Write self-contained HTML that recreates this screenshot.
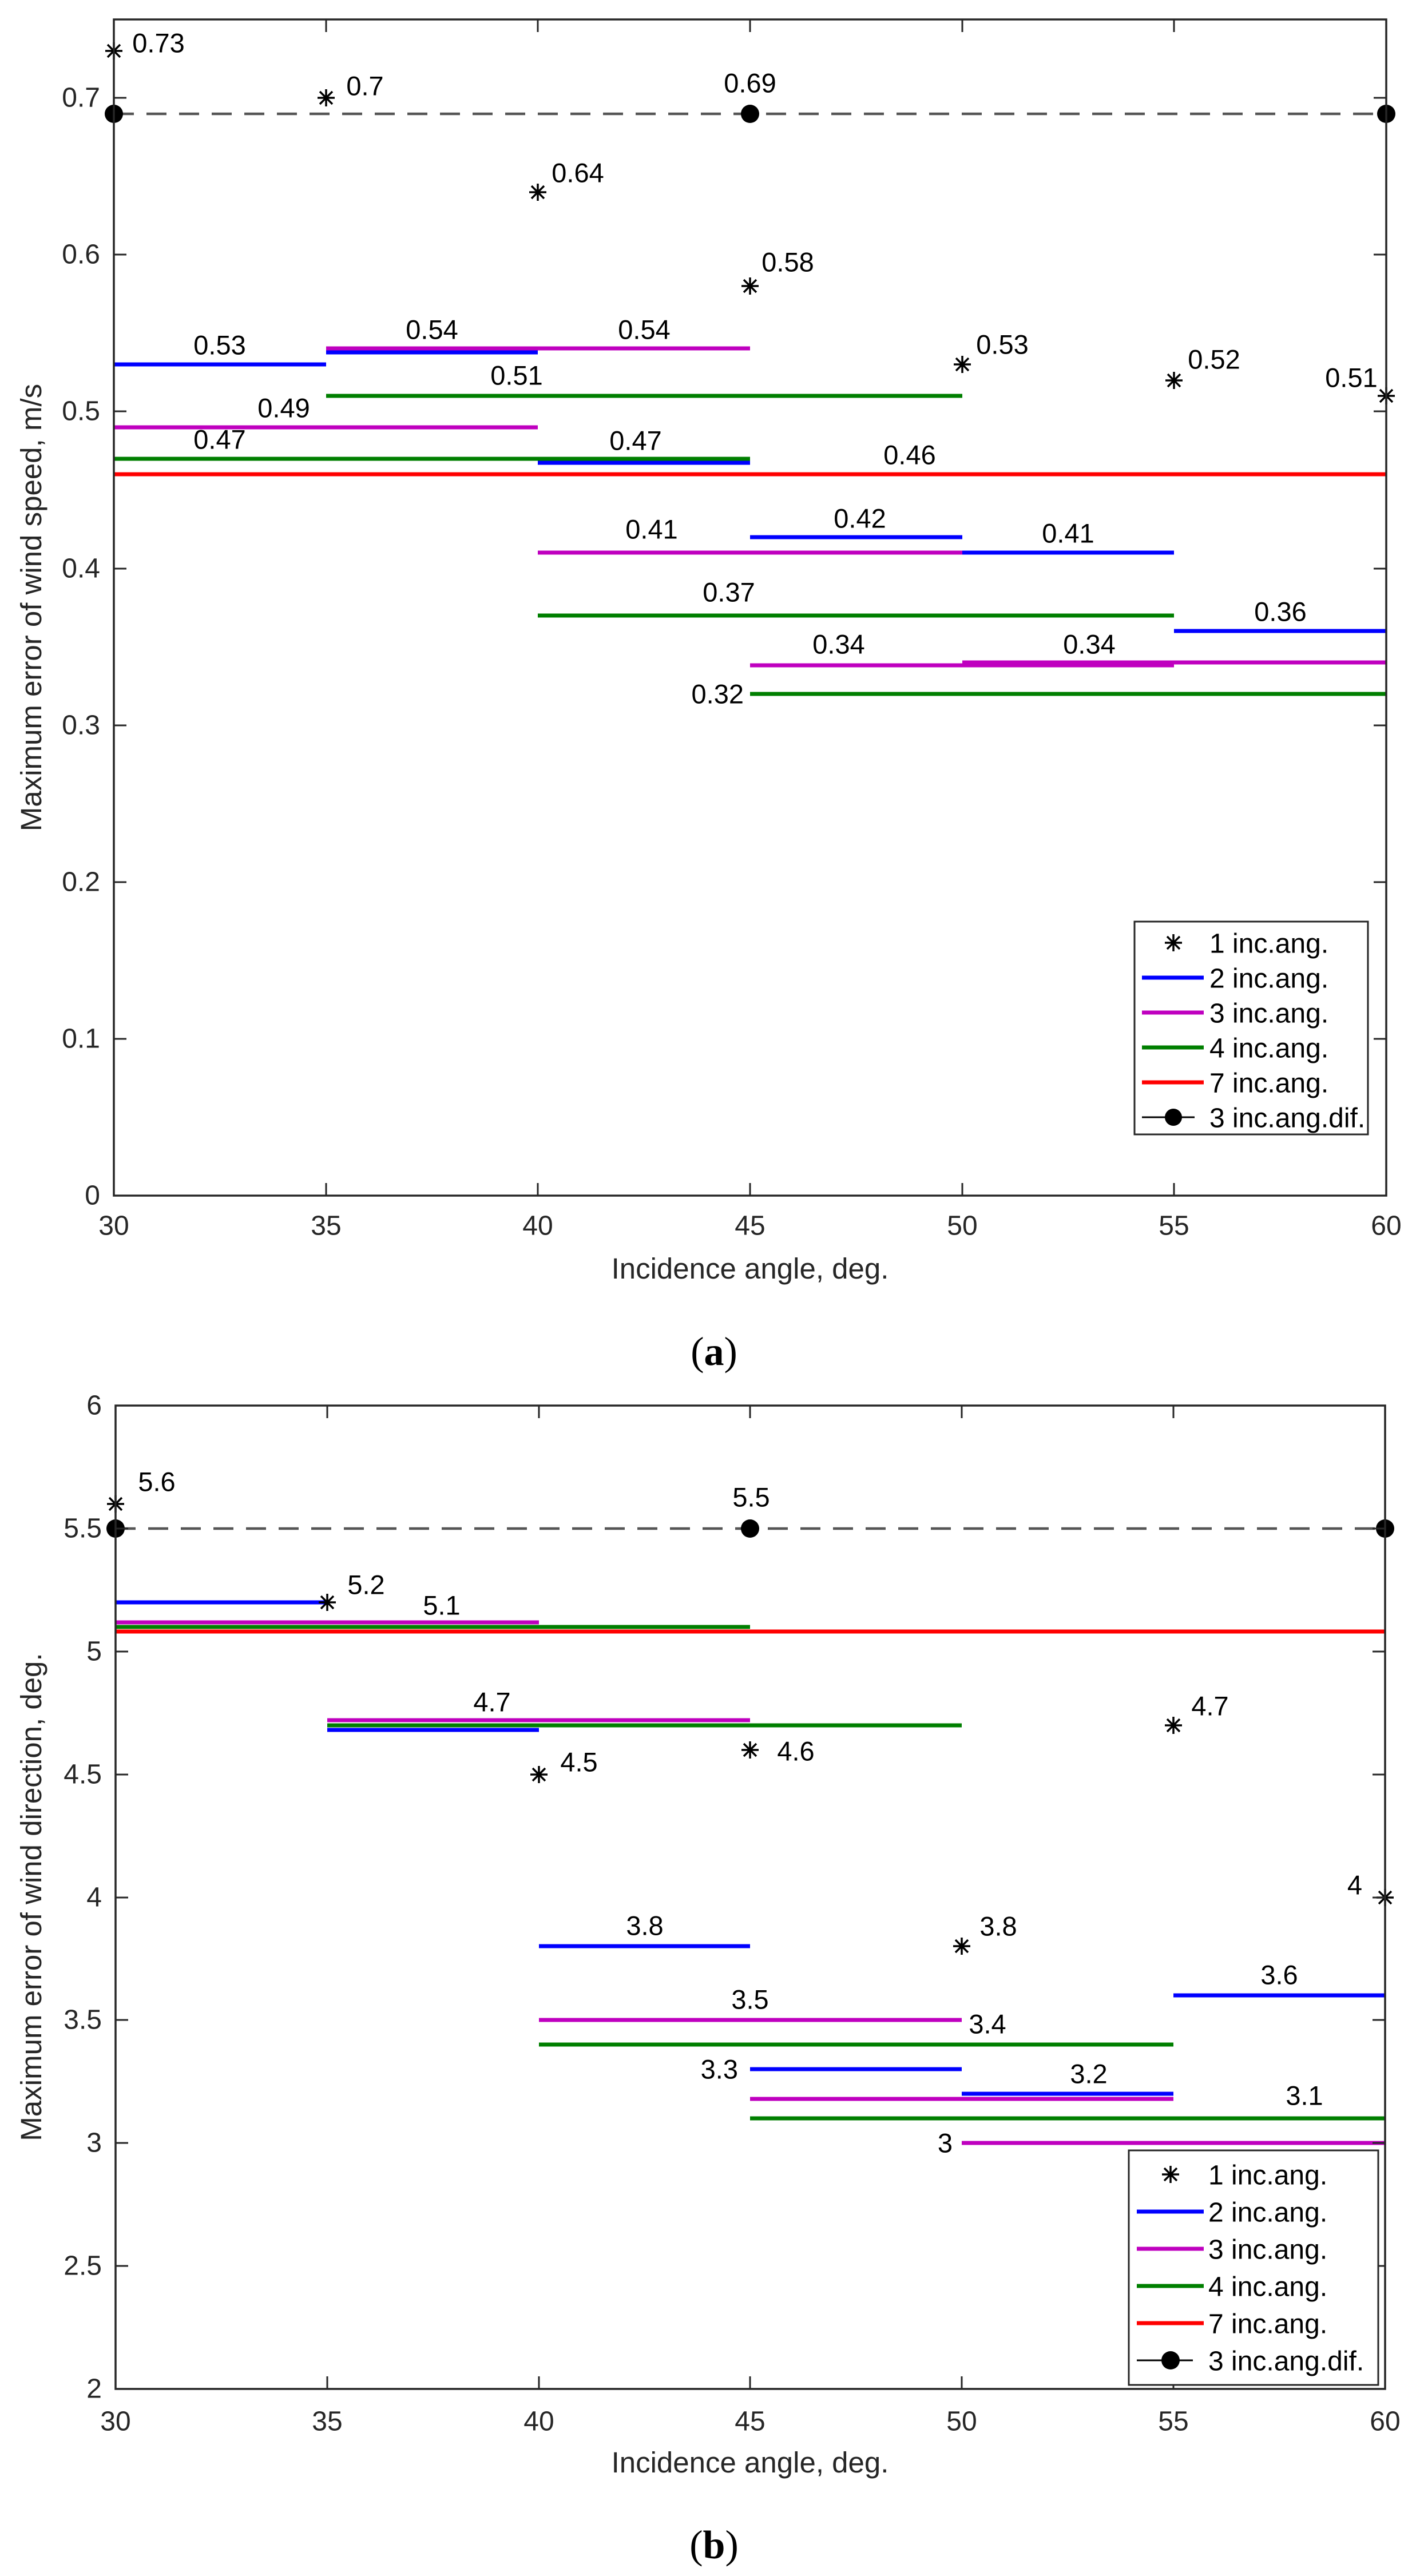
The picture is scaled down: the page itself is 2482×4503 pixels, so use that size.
<!DOCTYPE html>
<html><head><meta charset="utf-8"><style>
html,body{margin:0;padding:0;background:#fff;}
svg{display:block;}
text{font-family:"Liberation Sans",Arial,sans-serif;}
.tk{font-size:48px;fill:#262626;}
.lb{font-size:47px;fill:#000;dominant-baseline:central;text-anchor:middle;}
.lg{font-size:48px;fill:#000;dominant-baseline:central;}
.ax{font-size:51px;fill:#262626;text-anchor:middle;}
.cap{font-family:"Liberation Serif",serif;font-size:70px;text-anchor:middle;dominant-baseline:central;}
</style></head><body>
<svg width="2482" height="4503" viewBox="0 0 2482 4503" xmlns="http://www.w3.org/2000/svg">
<defs>
<g id="st"><path d="M-15 0H15M0 -15V15M-11 -11L11 11M-11 11L11 -11" stroke="#000" stroke-width="3.5"/></g>
</defs>

<!-- ================= (a) ================= -->
<g stroke-width="7" fill="none">
<!-- red 7 -->
<line x1="199" y1="829" x2="2423" y2="829" stroke="#ff0000"/>
<!-- green 4 -->
<line x1="199" y1="802" x2="1311" y2="802" stroke="#007f00"/>
<line x1="570" y1="692" x2="1682" y2="692" stroke="#007f00"/>
<line x1="940" y1="1076" x2="2052" y2="1076" stroke="#007f00"/>
<line x1="1311" y1="1213" x2="2423" y2="1213" stroke="#007f00"/>
<!-- blue 2 -->
<line x1="199" y1="637" x2="570" y2="637" stroke="#0000ff"/>
<line x1="570" y1="616" x2="940" y2="616" stroke="#0000ff"/>
<line x1="940" y1="809" x2="1311" y2="809" stroke="#0000ff"/>
<line x1="1311" y1="939" x2="1682" y2="939" stroke="#0000ff"/>
<line x1="1682" y1="966" x2="2052" y2="966" stroke="#0000ff"/>
<line x1="2052" y1="1103" x2="2423" y2="1103" stroke="#0000ff"/>
<!-- magenta 3 -->
<line x1="199" y1="747" x2="940" y2="747" stroke="#bf00bf"/>
<line x1="570" y1="609" x2="1311" y2="609" stroke="#bf00bf"/>
<line x1="940" y1="966" x2="1682" y2="966" stroke="#bf00bf"/>
<line x1="1311" y1="1163" x2="2052" y2="1163" stroke="#bf00bf"/>
<line x1="1682" y1="1158" x2="2423" y2="1158" stroke="#bf00bf"/>
</g>
<line x1="199" y1="199" x2="2423" y2="199" stroke="#555" stroke-width="4.5" stroke-dasharray="35 22"/>
<circle cx="199" cy="199" r="16"/><circle cx="1311" cy="199" r="16"/><circle cx="2423" cy="199" r="16"/>
<use href="#st" x="199" y="89"/><use href="#st" x="570" y="171"/><use href="#st" x="940" y="336"/>
<use href="#st" x="1311" y="500"/><use href="#st" x="1682" y="637"/><use href="#st" x="2052" y="665"/><use href="#st" x="2423" y="692"/>

<!-- axes a -->
<rect x="199" y="34" width="2224" height="2056" fill="none" stroke="#262626" stroke-width="3.5"/>
<g stroke="#262626" stroke-width="3">
<path d="M570 2090v-22M940 2090v-22M1311 2090v-22M1682 2090v-22M2052 2090v-22M570 34v22M940 34v22M1311 34v22M1682 34v22M2052 34v22"/>
<path d="M199 1816h22M199 1542h22M199 1268h22M199 994h22M199 719h22M199 445h22M199 171h22M2423 1816h-22M2423 1542h-22M2423 1268h-22M2423 994h-22M2423 719h-22M2423 445h-22M2423 171h-22"/>
</g>
<g class="tk" text-anchor="end" dominant-baseline="central">
<text x="175" y="2090">0</text><text x="175" y="1816">0.1</text><text x="175" y="1542">0.2</text><text x="175" y="1268">0.3</text>
<text x="175" y="994">0.4</text><text x="175" y="719">0.5</text><text x="175" y="445">0.6</text><text x="175" y="171">0.7</text>
</g>
<g class="tk" text-anchor="middle" dominant-baseline="central">
<text x="199" y="2143">30</text><text x="570" y="2143">35</text><text x="940" y="2143">40</text><text x="1311" y="2143">45</text>
<text x="1682" y="2143">50</text><text x="2052" y="2143">55</text><text x="2423" y="2143">60</text>
</g>
<text class="ax" x="1311" y="2235">Incidence angle, deg.</text>
<text class="ax" transform="translate(72 1062) rotate(-90)">Maximum error of wind speed, m/s</text>
<text class="cap" x="1248" y="2363">(<tspan font-weight="bold">a</tspan>)</text>

<g class="lb">
<text x="277" y="75">0.73</text><text x="638" y="150">0.7</text><text x="1010" y="302">0.64</text>
<text x="1377" y="458">0.58</text><text x="1752" y="602">0.53</text><text x="2122" y="628">0.52</text>
<text x="2362" y="660">0.51</text><text x="1311" y="145">0.69</text>
<text x="384" y="603">0.53</text><text x="755" y="576">0.54</text><text x="1126" y="576">0.54</text>
<text x="496" y="713">0.49</text><text x="903" y="656">0.51</text><text x="384" y="768">0.47</text>
<text x="1111" y="770">0.47</text><text x="1590" y="795">0.46</text><text x="1139" y="925">0.41</text>
<text x="1503" y="906">0.42</text><text x="1867" y="932">0.41</text><text x="1274" y="1035">0.37</text>
<text x="2238" y="1069">0.36</text><text x="1466" y="1126">0.34</text><text x="1904" y="1126">0.34</text>
<text x="1300" y="1213" text-anchor="end">0.32</text>
</g>

<!-- legend a -->
<rect x="1983" y="1611" width="408" height="372" fill="#fff" stroke="#262626" stroke-width="3"/>
<use href="#st" x="2051" y="1648"/>
<g stroke-width="7">
<line x1="1996" y1="1709" x2="2104" y2="1709" stroke="#0000ff"/>
<line x1="1996" y1="1770" x2="2104" y2="1770" stroke="#bf00bf"/>
<line x1="1996" y1="1831" x2="2104" y2="1831" stroke="#007f00"/>
<line x1="1996" y1="1892" x2="2104" y2="1892" stroke="#ff0000"/>
</g>
<line x1="1996" y1="1953" x2="2088" y2="1953" stroke="#000" stroke-width="3"/><circle cx="2051" cy="1953" r="15"/>
<g class="lg">
<text x="2114" y="1650">1 inc.ang.</text><text x="2114" y="1711">2 inc.ang.</text><text x="2114" y="1772">3 inc.ang.</text>
<text x="2114" y="1833">4 inc.ang.</text><text x="2114" y="1894">7 inc.ang.</text><text x="2114" y="1955">3 inc.ang.dif.</text>
</g>

<!-- ================= (b) ================= -->
<g stroke-width="7" fill="none">
<line x1="202" y1="2801" x2="572" y2="2801" stroke="#0000ff"/>
<line x1="572" y1="3024" x2="942" y2="3024" stroke="#0000ff"/>
<line x1="942" y1="3402" x2="1311" y2="3402" stroke="#0000ff"/>
<line x1="1311" y1="3617" x2="1681" y2="3617" stroke="#0000ff"/>
<line x1="1681" y1="3660" x2="2051" y2="3660" stroke="#0000ff"/>
<line x1="2051" y1="3488" x2="2421" y2="3488" stroke="#0000ff"/>
<line x1="202" y1="2836" x2="942" y2="2836" stroke="#bf00bf"/>
<line x1="572" y1="3007" x2="1311" y2="3007" stroke="#bf00bf"/>
<line x1="942" y1="3531" x2="1681" y2="3531" stroke="#bf00bf"/>
<line x1="1311" y1="3669" x2="2051" y2="3669" stroke="#bf00bf"/>
<line x1="1681" y1="3746" x2="2421" y2="3746" stroke="#bf00bf"/>
<line x1="202" y1="2844" x2="1311" y2="2844" stroke="#007f00"/>
<line x1="572" y1="3016" x2="1681" y2="3016" stroke="#007f00"/>
<line x1="942" y1="3574" x2="2051" y2="3574" stroke="#007f00"/>
<line x1="1311" y1="3703" x2="2421" y2="3703" stroke="#007f00"/>
<line x1="202" y1="2852" x2="2421" y2="2852" stroke="#ff0000"/>
</g>
<line x1="202" y1="2672" x2="2421" y2="2672" stroke="#555" stroke-width="4.5" stroke-dasharray="35 22"/>
<circle cx="202" cy="2672" r="16"/><circle cx="1311" cy="2672" r="16"/><circle cx="2421" cy="2672" r="16"/>
<use href="#st" x="202" y="2629"/><use href="#st" x="572" y="2801"/><use href="#st" x="942" y="3102"/>
<use href="#st" x="1311" y="3059"/><use href="#st" x="1681" y="3402"/><use href="#st" x="2051" y="3016"/><use href="#st" x="2421" y="3317"/>

<rect x="202" y="2457" width="2219" height="1719" fill="none" stroke="#262626" stroke-width="3.5"/>
<g stroke="#262626" stroke-width="3">
<path d="M572 4176v-22M942 4176v-22M1311 4176v-22M1681 4176v-22M2051 4176v-22M572 2457v22M942 2457v22M1311 2457v22M1681 2457v22M2051 2457v22"/>
<path d="M202 3961h22M202 3746h22M202 3531h22M202 3317h22M202 3102h22M202 2887h22M202 2672h22M2421 3961h-22M2421 3746h-22M2421 3531h-22M2421 3317h-22M2421 3102h-22M2421 2887h-22M2421 2672h-22"/>
</g>
<g class="tk" text-anchor="end" dominant-baseline="central">
<text x="178" y="4176">2</text><text x="178" y="3961">2.5</text><text x="178" y="3746">3</text><text x="178" y="3531">3.5</text>
<text x="178" y="3317">4</text><text x="178" y="3102">4.5</text><text x="178" y="2887">5</text><text x="178" y="2672">5.5</text><text x="178" y="2457">6</text>
</g>
<g class="tk" text-anchor="middle" dominant-baseline="central">
<text x="202" y="4233">30</text><text x="572" y="4233">35</text><text x="942" y="4233">40</text><text x="1311" y="4233">45</text>
<text x="1681" y="4233">50</text><text x="2051" y="4233">55</text><text x="2421" y="4233">60</text>
</g>
<text class="ax" x="1311" y="4322">Incidence angle, deg.</text>
<text class="ax" transform="translate(72 3316) rotate(-90)">Maximum error of wind direction, deg.</text>
<text class="cap" x="1248" y="4449">(<tspan font-weight="bold">b</tspan>)</text>

<g class="lb">
<text x="274" y="2590">5.6</text><text x="640" y="2770">5.2</text><text x="1012" y="3080">4.5</text>
<text x="1391" y="3061">4.6</text><text x="2115" y="2982">4.7</text><text x="1745" y="3367">3.8</text>
<text x="2368" y="3295">4</text><text x="1313" y="2617">5.5</text>
<text x="772" y="2806">5.1</text><text x="860" y="2975">4.7</text><text x="1127" y="3366">3.8</text>
<text x="1311" y="3495">3.5</text><text x="1726" y="3538">3.4</text><text x="2236" y="3452">3.6</text>
<text x="1903" y="3625">3.2</text><text x="2280" y="3663">3.1</text>
<text x="1290" y="3617" text-anchor="end">3.3</text>
<text x="1665" y="3746" text-anchor="end">3</text>
</g>

<rect x="1973" y="3759" width="436" height="410" fill="#fff" stroke="#262626" stroke-width="3"/>
<use href="#st" x="2046" y="3801"/>
<g stroke-width="7">
<line x1="1987" y1="3866" x2="2104" y2="3866" stroke="#0000ff"/>
<line x1="1987" y1="3931" x2="2104" y2="3931" stroke="#bf00bf"/>
<line x1="1987" y1="3996" x2="2104" y2="3996" stroke="#007f00"/>
<line x1="1987" y1="4061" x2="2104" y2="4061" stroke="#ff0000"/>
</g>
<line x1="1987" y1="4126" x2="2085" y2="4126" stroke="#000" stroke-width="3"/><circle cx="2046" cy="4126" r="16"/>
<g class="lg" font-size="50">
<text x="2112" y="3803">1 inc.ang.</text><text x="2112" y="3868">2 inc.ang.</text><text x="2112" y="3933">3 inc.ang.</text>
<text x="2112" y="3998">4 inc.ang.</text><text x="2112" y="4063">7 inc.ang.</text><text x="2112" y="4128">3 inc.ang.dif.</text>
</g>
</svg>
</body></html>
